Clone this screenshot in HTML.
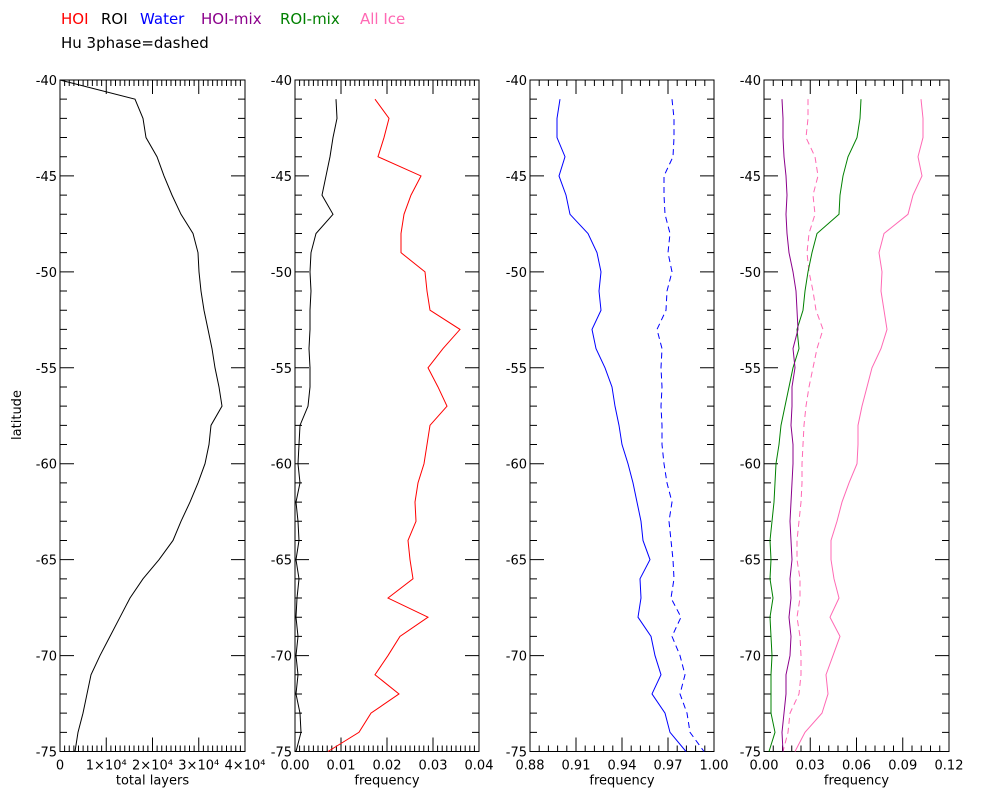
<!DOCTYPE html>
<html><head><meta charset="utf-8"><style>
html,body{margin:0;padding:0;background:#fff;}
svg{display:block;font-family:"DejaVu Sans","Liberation Sans",sans-serif;}
</style></head><body>
<svg id="s" width="1000" height="800" xmlns="http://www.w3.org/2000/svg">
<text x="61" y="24" font-size="15" fill="#ff0000">HOI</text>
<text x="101" y="24" font-size="15" fill="#000">ROI</text>
<text x="140" y="24" font-size="15" fill="#0000ff">Water</text>
<text x="201" y="24" font-size="15" fill="#8b008b">HOI-mix</text>
<text x="280" y="24" font-size="15" fill="#008000">ROI-mix</text>
<text x="360" y="24" font-size="15" fill="#ff69b4">All Ice</text>
<text x="61" y="48" font-size="15" fill="#000">Hu 3phase=dashed</text>
<text transform="translate(21,415) rotate(-90)" font-size="13" text-anchor="middle">latitude</text>
</svg>
<script>
var s=document.getElementById('s'),NS='http://www.w3.org/2000/svg';
function el(t,a,txt){var e=document.createElementNS(NS,t);for(var k in a)e.setAttribute(k,a[k]);if(txt!==undefined)e.textContent=txt;s.appendChild(e);return e;}
var T=80,B=751.5,py=function(k){return T+(B-T)*k/35;};
var panels=[
 {x0:60,x1:245,lab:['0','1×10⁴','2×10⁴','3×10⁴','4×10⁴'],minor:10,xl:'total layers'},
 {x0:295,x1:479,lab:['0.00','0.01','0.02','0.03','0.04'],minor:10,xl:'frequency'},
 {x0:530,x1:714,lab:['0.88','0.91','0.94','0.97','1.00'],minor:5,xl:'frequency'},
 {x0:764,x1:949,lab:['0.00','0.03','0.06','0.09','0.12'],minor:5,xl:'frequency'}];
panels.forEach(function(p){
 var d='';
 for(var k=0;k<=35;k++){var y=py(k),L=(k%5==0)?14:7;d+='M'+p.x0+' '+y+'h'+L+'M'+p.x1+' '+y+'h'+(-L);
  if(k%5==0)el('text',{x:p.x0-3,y:y+5,'font-size':13,'text-anchor':'end'},String(-40-k));}
 var n=4*p.minor;
 for(var i=0;i<=n;i++){var x=p.x0+(p.x1-p.x0)*i/n,L=(i%p.minor==0)?14:6;d+='M'+x+' '+T+'v'+L+'M'+x+' '+B+'v'+(-L);
  if(i%p.minor==0)el('text',{x:x,y:B+18,'font-size':13,'text-anchor':'middle'},p.lab[i/p.minor]);}
 el('path',{d:d,stroke:'#000','stroke-width':1,fill:'none'});
 el('rect',{x:p.x0,y:T,width:p.x1-p.x0,height:B-T,fill:'none',stroke:'#000','stroke-width':1});
 el('text',{x:(p.x0+p.x1)/2,y:B+33,'font-size':13,'text-anchor':'middle'},p.xl);
});
function line(xs,start,col,dash){var d='';xs.forEach(function(x,i){d+=(i?'L':'M')+x+' '+py(start+i);});
 var a={d:d,stroke:col,'stroke-width':1,fill:'none'};if(dash)a['stroke-dasharray']='6,4';el('path',a);}
line([60,135,143,146,157,164,172,181,193,198,199,201,204,208,212,215,219,222,211,209,205,198,190,181,173,159,143,130,120,110,100,91,87,83,78,75],0,'#000');
line([336,337,333,330,326,322,333,316,311,310,311,310,310,309,310,310,308,300,299,298,300,296,298,299,296,299,297,296,298,296,298,296,300,301,296],1,'#000');
line([375,389,384,378,421,411,404,401,401,425,427,430,460,443,428,438,447,430,427,424,418,415,416,408,410,413,388,428,400,388,375,399,371,359,328],1,'#ff0000');
line([560,557,557,565,559,566,570,588,597,601,599,601,592,596,605,612,615,619,622,628,633,637,641,643,650,640,641,638,651,655,661,652,665,670,686],1,'#0000ff');
line([672,674,674,673,664,664,665,670,668,672,667,666,657,662,661,662,661,662,662,664,667,672,669,671,673,674,671,681,672,680,685,680,687,690,704],1,'#0000ff',1);
line([921,923,923,918,922,913,908,884,879,882,881,884,887,881,872,867,862,858,858,857,849,842,837,831,831,834,839,830,840,833,826,828,822,805,795],1,'#ff69b4');
line([808,808,806,815,818,813,815,809,807,809,813,816,823,817,813,809,806,804,803,802,802,801,799,797,797,800,800,797,800,801,801,799,790,788,783],1,'#ff69b4',1);
line([861,860,857,848,843,840,839,817,812,808,805,803,797,799,793,789,785,781,779,776,775,774,772,770,771,770,773,770,771,772,771,771,771,775,769],1,'#008000');
line([782,783,783,784,786,787,786,787,789,793,796,797,798,793,795,792,792,791,793,793,792,791,790,791,792,790,791,789,791,790,786,786,784,782,783],1,'#8b008b');
</script>
</body></html>
